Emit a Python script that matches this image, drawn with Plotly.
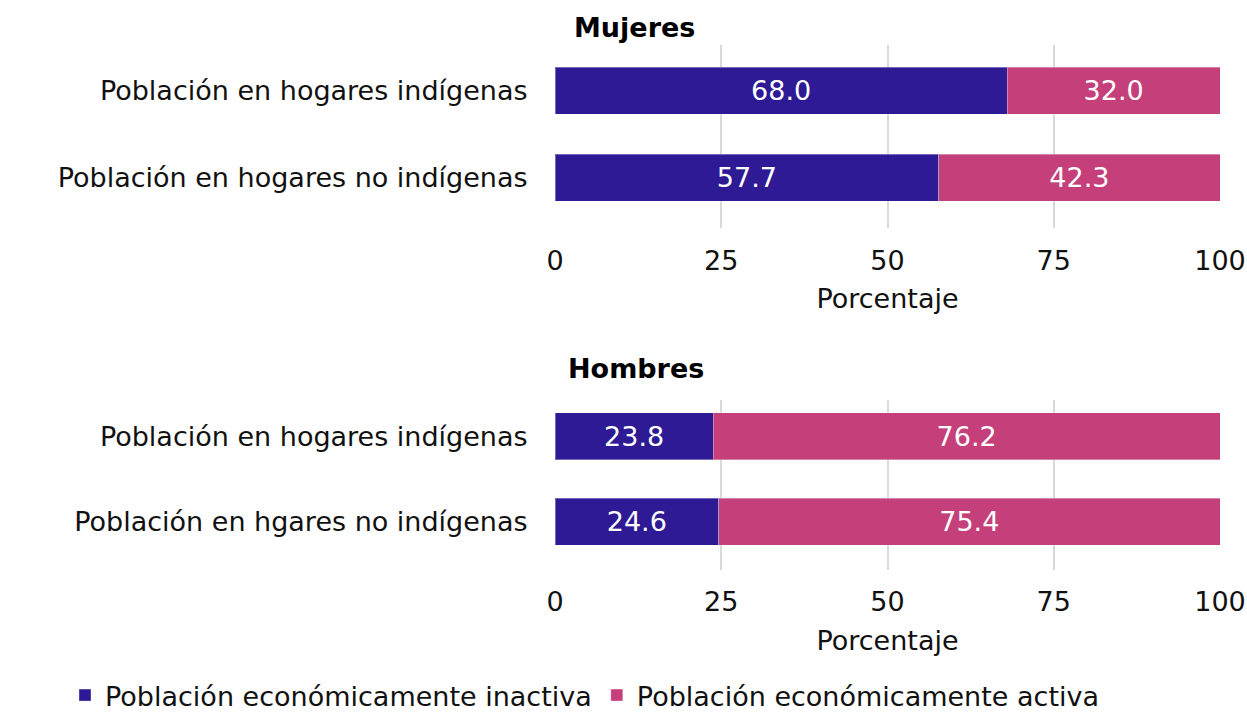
import plotly.graph_objects as go
from plotly.subplots import make_subplots

cats_m = ["Población en hogares indígenas", "Población en hogares no indígenas"]
cats_h = ["Población en hogares indígenas", "Población en hgares no indígenas"]
inactiva_m = [68.0, 57.7]
activa_m = [32.0, 42.3]
inactiva_h = [23.8, 24.6]
activa_h = [76.2, 75.4]
series_names = ["Población económicamente inactiva", "Población económicamente activa"]
x_ticks = [0, 25, 50, 75, 100]

C_IN = "#2E1A95"
C_AC = "#C5407B"
FONT = "DejaVu Sans"
FS = 27

W, H = 1247, 712
ML, MR, MT, MB = 555, 27, 45, 142
PW = W - ML - MR
PH = H - MT - MB

fig = make_subplots(rows=2, cols=1)

def add(cats, vals, name, color, row, show, width):
    fig.add_trace(go.Bar(
        y=cats, x=vals, orientation="h", name=name,
        marker=dict(color=color, line=dict(color="rgba(255,255,255,0.35)", width=1)),
        text=[f"{v:.1f}" for v in vals], textposition="inside", insidetextanchor="middle",
        textfont=dict(color="white", size=FS, family=FONT),
        showlegend=show, width=width, legendgroup=name,
    ), row=row, col=1)

add(cats_m, inactiva_m, series_names[0], C_IN, 1, True, 0.54)
add(cats_m, activa_m, series_names[1], C_AC, 1, True, 0.54)
add(cats_h, inactiva_h, series_names[0], C_IN, 2, False, 0.553)
add(cats_h, activa_h, series_names[1], C_AC, 2, False, 0.553)

xax = dict(range=[0, 100], tickvals=x_ticks, showgrid=True, gridcolor="#D9D9D9", gridwidth=1.5,
           zeroline=False, showline=False, ticks="outside", ticklen=8, tickcolor="rgba(0,0,0,0)",
           tickfont=dict(size=FS, family=FONT, color="#111"),
           title=dict(text="Porcentaje", font=dict(size=FS, family=FONT, color="#111"), standoff=14))
yax = dict(showgrid=False, ticks="outside", ticklen=21, tickcolor="rgba(0,0,0,0)",
           tickfont=dict(size=FS, family=FONT, color="#111"))
fig.update_layout(
    barmode="stack",
    width=W, height=H,
    margin=dict(l=ML, r=MR, t=MT, b=MB, autoexpand=False),
    paper_bgcolor="white", plot_bgcolor="white",
    font=dict(family=FONT, size=FS, color="#111"),
    xaxis=dict(xax, domain=[0, 1]),
    xaxis2=dict(xax, domain=[0, 1]),
    yaxis=dict(yax, domain=[0.651, 1], range=[1.58, -0.523]),
    yaxis2=dict(yax, domain=[0, 0.324], range=[1.57, -0.43]),
    legend=dict(orientation="h", x=(65 - ML) / PW, xanchor="left", xref="paper",
                y=-(671 - (H - MB)) / PH, yref="paper", yanchor="top",
                font=dict(size=FS, family=FONT, color="#111"),
                itemwidth=30, tracegroupgap=0),
)
fig.add_annotation(text="<b>Mujeres</b>", x=(634 - ML) / PW, xref="paper", xanchor="center",
                   y=1 + (MT - 27) / PH, yref="paper", yanchor="middle", showarrow=False,
                   font=dict(size=FS, family=FONT, color="#000"))
fig.add_annotation(text="<b>Hombres</b>", x=(636 - ML) / PW, xref="paper", xanchor="center",
                   y=1 - (368 - MT) / PH, yref="paper", yanchor="middle", showarrow=False,
                   font=dict(size=FS, family=FONT, color="#000"))
fig.write_html("out.html", config={"displayModeBar": False},
               post_script="document.body.style.margin='0';document.body.style.overflow='hidden';")
